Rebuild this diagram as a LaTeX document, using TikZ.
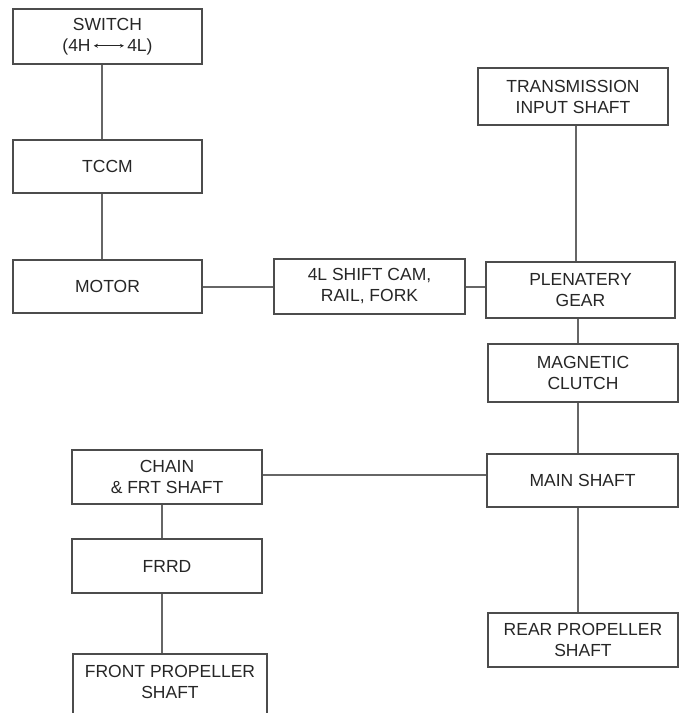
\documentclass[tikz,border=0pt]{standalone}
\usepackage{fontspec}
\setmainfont{Liberation Sans}
\usetikzlibrary{arrows.meta}
\begin{document}
\begin{tikzpicture}[x=1pt,y=-1pt,
  blk/.style={draw=black!70,line width=1.6pt,rectangle,inner sep=0pt,align=center,
    font=\fontsize{17.5}{21}\selectfont,text=black!85},
  link/.style={draw=black!60,line width=1.6pt}]
\useasboundingbox (0,0) rectangle (680,713);
\newcommand{\blkat}[6]{\node[blk,minimum width={#4-#2},minimum height={#5-#3}] (#1) at ({(#2+#4)/2},{(#3+#5)/2}) {#6};}
\blkat{sw}{13}{9}{202}{64}{SWITCH\\(4H\,\tikz[baseline=-0.6ex]\draw[{Stealth[length=4pt,width=4pt]}-{Stealth[length=4pt,width=4pt]},line width=0.8pt] (0,0)--(30pt,0);\,4L)}
\blkat{tccm}{13}{140}{202}{193}{TCCM}
\blkat{mot}{13}{260}{202}{313}{MOTOR}
\blkat{cam}{274}{259}{465}{314}{4L SHIFT CAM,\\RAIL, FORK}
\blkat{tis}{478}{68}{668}{125}{TRANSMISSION\\INPUT SHAFT}
\blkat{pg}{486}{262}{675}{318}{PLENATERY\\GEAR}
\blkat{mc}{488}{344}{678}{402}{MAGNETIC\\CLUTCH}
\blkat{ms}{487}{454}{678}{507}{MAIN SHAFT}
\blkat{rps}{488}{613}{678}{667}{REAR PROPELLER\\SHAFT}
\blkat{ch}{72}{450}{262}{504}{CHAIN\\\& FRT SHAFT}
\blkat{frrd}{72}{539}{262}{593}{FRRD}
\node[blk,minimum width=194,minimum height=74,anchor=north,text depth=18pt] (fps) at (170,653) {FRONT PROPELLER\\SHAFT};
\draw[link] (sw.south -| 102,0) -- (tccm.north -| 102,0);
\draw[link] (tccm.south -| 102,0) -- (mot.north -| 102,0);
\draw[link] (mot.east |- 0,287) -- (cam.west |- 0,287);
\draw[link] (cam.east |- 0,287) -- (pg.west |- 0,287);
\draw[link] (tis.south -| 576,0) -- (pg.north -| 576,0);
\draw[link] (pg.south -| 578,0) -- (mc.north -| 578,0);
\draw[link] (mc.south -| 578,0) -- (ms.north -| 578,0);
\draw[link] (ms.south -| 578,0) -- (rps.north -| 578,0);
\draw[link] (ms.west |- 0,475) -- (ch.east |- 0,475);
\draw[link] (ch.south -| 162,0) -- (frrd.north -| 162,0);
\draw[link] (frrd.south -| 162,0) -- (fps.north -| 162,0);
\end{tikzpicture}
\end{document}
